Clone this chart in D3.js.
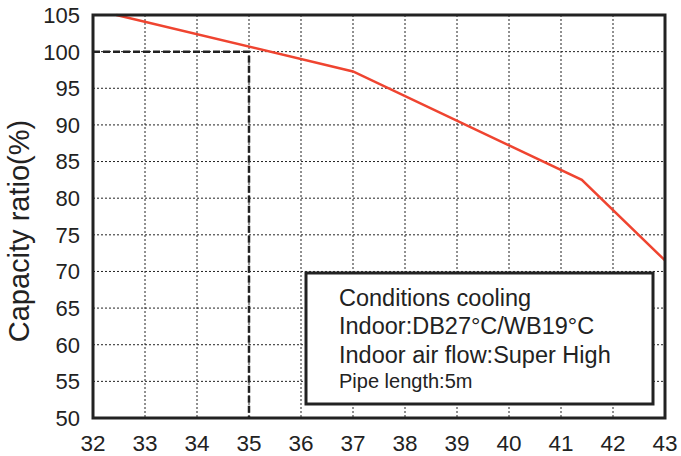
<!DOCTYPE html>
<html>
<head>
<meta charset="utf-8">
<script src="https://cdn.jsdelivr.net/npm/d3@7"></script>
<style>
  body { margin: 0; background: #fff; }
  svg { display: block; font-family: "Liberation Sans", Arial, sans-serif; }
</style>
</head>
<body>
<svg width="681" height="456"></svg>
<script>
// outdoor temperature (°C) vs capacity ratio (%)
const tempX = [32.45, 37, 41.4, 43];
const capacity = [105, 97.3, 82.5, 71.5];
const xTicks = [32, 33, 34, 35, 36, 37, 38, 39, 40, 41, 42, 43];
const yTicks = [50, 55, 60, 65, 70, 75, 80, 85, 90, 95, 100, 105];
const ratedTemp = 35;
const ratedCap = 100;
const noteLines = [
    'Conditions cooling',
    'Indoor:DB27°C/WB19°C',
    'Indoor air flow:Super High',
    'Pipe length:5m'
];

const svg = d3.select('svg');
const margin = {top: 15, left: 93, right: 16, bottom: 38};
const width = 681 - margin.left - margin.right;
const height = 456 - margin.top - margin.bottom;

const x = d3.scaleLinear().domain([32, 43]).range([0, width]);
const y = d3.scaleLinear().domain([50, 105]).range([height, 0]);

const g = svg.append('g')
.attr('transform', `translate(${margin.left},${margin.top})`);

// grid
g.append('g')
.selectAll('line')
.data(xTicks.slice(1, -1))
.enter().append('line')
.attr('x1', d => x(d)).attr('x2', d => x(d))
.attr('y1', 0).attr('y2', height)
.attr('stroke', '#222')
.attr('stroke-width', 1)
.attr('stroke-dasharray', '2,2');

g.append('g')
.selectAll('line')
.data(yTicks.slice(1, -1))
.enter().append('line')
.attr('x1', 0).attr('x2', width)
.attr('y1', d => y(d)).attr('y2', d => y(d))
.attr('stroke', '#222')
.attr('stroke-width', 1)
.attr('stroke-dasharray', '2,2');

// rated point guide lines
g.append('path')
.attr('d', `M${x(32)},${y(ratedCap)}H${x(ratedTemp)}V${y(50)}`)
.attr('fill', 'none')
.attr('stroke', '#222')
.attr('stroke-width', 2.5)
.attr('stroke-dasharray', '7,3');

// curve
const line = d3.line().x((d, i) => x(tempX[i])).y(d => y(d));
g.append('path')
.datum(capacity)
.attr('d', line)
.attr('fill', 'none')
.attr('stroke', '#ef4430')
.attr('stroke-width', 2.5);

// note box
const box = g.append('g');
box.append('rect')
.attr('x', 213).attr('y', 258)
.attr('width', 347).attr('height', 131)
.attr('fill', '#fff')
.attr('stroke', '#222')
.attr('stroke-width', 3);

box.selectAll('text')
.data(noteLines)
.enter().append('text')
.attr('x', 246)
.attr('y', (d, i) => [291, 319, 348, 373][i])
.attr('font-size', (d, i) => i === 3 ? 20 : 23.5)
.attr('fill', '#222')
.text(d => d);

// frame
g.append('rect')
.attr('width', width).attr('height', height)
.attr('fill', 'none')
.attr('stroke', '#222')
.attr('stroke-width', 3);

// tick labels
g.append('g')
.selectAll('text')
.data(yTicks)
.enter().append('text')
.attr('x', -13)
.attr('y', d => y(d))
.attr('dy', '0.36em')
.attr('text-anchor', 'end')
.attr('font-size', 22)
.attr('fill', '#222')
.text(d => d);

g.append('g')
.selectAll('text')
.data(xTicks)
.enter().append('text')
.attr('x', d => x(d))
.attr('y', height + 33)
.attr('text-anchor', 'middle')
.attr('font-size', 22.5)
.attr('fill', '#222')
.text(d => d);

// y title
svg.append('text')
.attr('transform', 'translate(29,231) rotate(-90)')
.attr('text-anchor', 'middle')
.attr('font-size', 29)
.attr('fill', '#222')
.text('Capacity ratio(%)');
</script>
</body>
</html>
